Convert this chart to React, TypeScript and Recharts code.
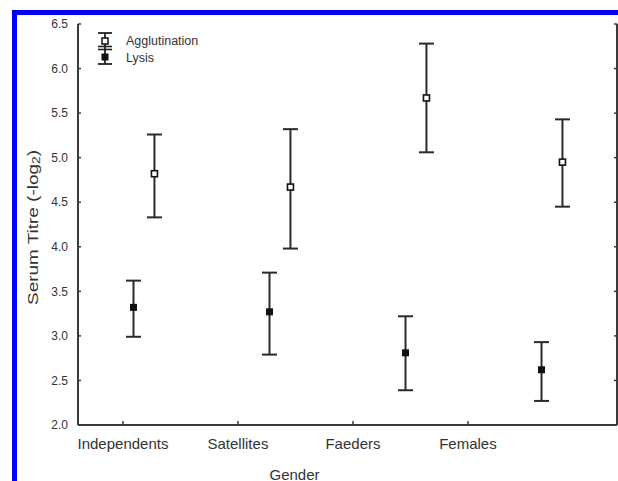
import { ComposedChart, Scatter, ErrorBar, XAxis, YAxis, Label } from "recharts";

const groups = ["Independents", "Satellites", "Faeders", "Females"];

const agglutMean = [4.82, 4.67, 5.67, 4.95];
const agglutLow = [4.33, 3.98, 5.06, 4.45];
const agglutHigh = [5.26, 5.32, 6.28, 5.43];

const lysisMean = [3.32, 3.27, 2.81, 2.62];
const lysisLow = [2.99, 2.79, 2.39, 2.27];
const lysisHigh = [3.62, 3.71, 3.22, 2.93];

const yTicks = [2.0, 2.5, 3.0, 3.5, 4.0, 4.5, 5.0, 5.5, 6.0, 6.5];
const groupTicks = [0, 1, 2, 3];

const font = "'Liberation Sans', Arial, sans-serif";
const ink = "#333";
const line = "#3a3a3a";
const dodge = 0.077;

const agglutData = groups.map((g, i) => ({
  name: g,
  x: i + dodge,
  y: agglutMean[i],
  err: [agglutMean[i] - agglutLow[i], agglutHigh[i] - agglutMean[i]],
}));

const lysisData = groups.map((g, i) => ({
  name: g,
  x: i - dodge,
  y: lysisMean[i],
  err: [lysisMean[i] - lysisLow[i], lysisHigh[i] - lysisMean[i]],
}));

// invisible anchors so the frame axes (bottom labels, top, right) get drawn
const anchorData = groups.map((g, i) => ({ name: g, x: i, y: lysisMean[i] }));

function OpenSquare({ cx, cy }: any) {
  return <rect x={cx - 3} y={cy - 3} width={6} height={6} fill="#fff" stroke="#111" strokeWidth={1.6} />;
}

function FilledSquare({ cx, cy }: any) {
  return <rect x={cx - 3.5} y={cy - 3.5} width={7} height={7} fill="#111" />;
}

function NoShape() {
  return <g />;
}

function GenderLabel({ viewBox }: any) {
  return (
    <text
      x={viewBox.x + viewBox.width / 2 - 53}
      y={viewBox.y + 49}
      textAnchor="middle"
      dominantBaseline="central"
      fontSize={15}
      fontFamily={font}
      fill={ink}
    >
      Gender
    </text>
  );
}

function TitreLabel({ viewBox }: any) {
  const cx = 32;
  const cy = viewBox.y + viewBox.height / 2 + 3;
  return (
    <text
      x={cx}
      y={cy}
      transform={`rotate(-90 ${cx} ${cy})`}
      textAnchor="middle"
      dominantBaseline="central"
      fontSize={15}
      fontFamily={font}
      fill={ink}
      textLength={155}
      lengthAdjust="spacingAndGlyphs"
    >
      Serum Titre (-log
      <tspan fontSize={11} dy={4}>2</tspan>
      <tspan dy={-4}>)</tspan>
    </text>
  );
}

function LegendBox() {
  return (
    <svg
      width={130}
      height={42}
      style={{ position: "absolute", left: 92, top: 28 }}
      fontFamily={font}
    >
      <line x1={13} x2={13} y1={5} y2={36} stroke="#222" strokeWidth={1.8} />
      <line x1={6} x2={20} y1={5} y2={5} stroke="#222" strokeWidth={1.8} />
      <line x1={6} x2={20} y1={18.5} y2={18.5} stroke="#222" strokeWidth={1.6} />
      <line x1={6} x2={20} y1={21.5} y2={21.5} stroke="#222" strokeWidth={1.6} />
      <line x1={6} x2={20} y1={36} y2={36} stroke="#222" strokeWidth={1.8} />
      <rect x={10} y={10} width={6} height={6} fill="#fff" stroke="#111" strokeWidth={1.5} />
      <rect x={9.5} y={25.5} width={7} height={7} fill="#111" />
      <text x={34} y={13} dominantBaseline="central" fontSize={12.5} fill={ink}>
        Agglutination
      </text>
      <text x={34} y={30} dominantBaseline="central" fontSize={12.5} fill={ink}>
        Lysis
      </text>
    </svg>
  );
}

export default function App() {
  return (
    <div style={{ position: "absolute", left: 0, top: 0, width: 618, height: 481, background: "#fff", overflow: "hidden" }}>
      <div
        style={{
          position: "absolute",
          left: 12,
          top: 10,
          width: 620,
          height: 480,
          borderLeft: "5px solid #0000ff",
          borderTop: "5px solid #0000ff",
        }}
      />
      <div style={{ position: "absolute", left: 0, top: 0 }}>
        <ComposedChart width={618} height={481} margin={{ top: 24, right: 0, bottom: 0, left: 0 }}>
          <XAxis xAxisId="data" dataKey="x" type="number" domain={[-0.485, 3.478]} hide allowDataOverflow />
          <XAxis
            xAxisId="cat"
            dataKey="x"
            type="number"
            domain={[-0.391, 4.296]}
            ticks={groupTicks}
            interval={0}
            allowDataOverflow
            height={56}
            tickSize={-4}
            tickMargin={17}
            tickFormatter={(v: number) => groups[v]}
            axisLine={{ stroke: line, strokeWidth: 2 }}
            tickLine={{ stroke: line, strokeWidth: 1.5 }}
            tick={{ fontSize: 15, fill: ink, fontFamily: font }}
          >
            <Label content={GenderLabel} />
          </XAxis>
          <XAxis
            xAxisId="top"
            dataKey="x"
            orientation="top"
            type="number"
            domain={[-0.477, 3.669]}
            ticks={groupTicks}
            interval={0}
            allowDataOverflow
            height={0}
            tickSize={-3}
            tickFormatter={() => ""}
            axisLine={{ stroke: line, strokeWidth: 2 }}
            tickLine={{ stroke: line, strokeWidth: 1.5 }}
          />
          <YAxis
            dataKey="y"
            type="number"
            domain={[2, 6.5]}
            ticks={yTicks}
            interval={0}
            allowDataOverflow
            width={78}
            tickSize={-3}
            tickMargin={13}
            tickFormatter={(v: number) => v.toFixed(1)}
            axisLine={{ stroke: line, strokeWidth: 2 }}
            tickLine={{ stroke: line, strokeWidth: 1.5 }}
            tick={{ fontSize: 12, fill: ink, fontFamily: font }}
          >
            <Label content={TitreLabel} />
          </YAxis>
          <YAxis
            yAxisId="right"
            dataKey="y"
            orientation="right"
            type="number"
            domain={[2, 6.5]}
            ticks={yTicks}
            interval={0}
            allowDataOverflow
            width={1}
            tickSize={-3}
            tickFormatter={() => ""}
            axisLine={{ stroke: line, strokeWidth: 2 }}
            tickLine={{ stroke: line, strokeWidth: 1.5 }}
          />
          <Scatter xAxisId="cat" data={anchorData} shape={NoShape} legendType="none" isAnimationActive={false} />
          <Scatter xAxisId="top" yAxisId="right" data={anchorData} shape={NoShape} legendType="none" isAnimationActive={false} />
          <Scatter name="Agglutination" xAxisId="data" data={agglutData} shape={OpenSquare} isAnimationActive={false}>
            <ErrorBar dataKey="err" direction="y" width={7.5} stroke="#2a2a2a" strokeWidth={2} isAnimationActive={false} />
          </Scatter>
          <Scatter name="Lysis" xAxisId="data" data={lysisData} shape={FilledSquare} isAnimationActive={false}>
            <ErrorBar dataKey="err" direction="y" width={7.5} stroke="#2a2a2a" strokeWidth={2} isAnimationActive={false} />
          </Scatter>
        </ComposedChart>
      </div>
      <LegendBox />
    </div>
  );
}
